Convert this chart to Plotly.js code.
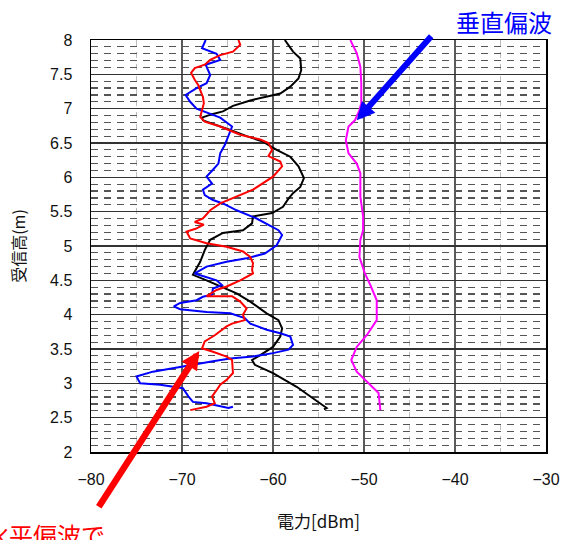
<!DOCTYPE html>
<html>
<head>
<meta charset="utf-8">
<script src="https://cdn.plot.ly/plotly-3.0.1.min.js"></script>
<style>
  html, body { margin: 0; padding: 0; background: #fff; }
  #chart { width: 564px; height: 540px; }
</style>
</head>
<body>
<div id="chart"></div>
<script>
// Received power versus receiving antenna height, four measured profiles.
const blueHeight = [8.00, 7.88, 7.80, 7.71, 7.64, 7.49, 7.37, 7.30, 7.20, 7.10, 7.00, 6.96, 6.87, 6.74, 6.59, 6.47, 6.35, 6.20, 6.11, 6.01, 5.91, 5.82, 5.74, 5.67, 5.62, 5.52, 5.40, 5.23, 5.16, 5.01, 4.89, 4.82, 4.77, 4.70, 4.60, 4.55, 4.50, 4.43, 4.38, 4.29, 4.26, 4.21, 4.17, 4.12, 4.08, 4.04, 4.02, 3.95, 3.87, 3.78, 3.73, 3.68, 3.56, 3.49, 3.44, 3.39, 3.36, 3.32, 3.24, 3.17, 3.10, 3.00, 2.98, 2.93, 2.81, 2.73, 2.71, 2.68, 2.64, 2.66];
const bluePower  = [-67.4, -67.8, -66.2, -65.8, -67.4, -66.9, -67.3, -68.4, -69.6, -69.1, -68.4, -67.6, -65.8, -64.5, -64.9, -65.3, -65.8, -66.0, -66.6, -67.3, -66.7, -67.7, -67.5, -66.6, -65.5, -64.0, -61.8, -59.4, -59.0, -59.6, -60.9, -62.9, -65.1, -67.3, -68.6, -67.5, -66.2, -65.6, -66.6, -66.7, -67.7, -68.4, -70.2, -70.9, -70.2, -67.3, -64.7, -63.1, -62.5, -60.7, -59.2, -58.1, -57.8, -58.3, -60.0, -62.2, -64.7, -66.6, -70.2, -73.2, -75.0, -74.6, -72.4, -69.9, -69.3, -68.8, -67.3, -66.2, -64.9, -64.4];

const redHeight = [8.00, 7.93, 7.83, 7.78, 7.71, 7.64, 7.59, 7.52, 7.42, 7.34, 7.27, 7.17, 7.08, 6.98, 6.88, 6.81, 6.74, 6.62, 6.55, 6.50, 6.40, 6.31, 6.23, 6.16, 6.01, 5.82, 5.72, 5.62, 5.52, 5.40, 5.35, 5.31, 5.25, 5.21, 5.11, 5.04, 4.99, 4.92, 4.84, 4.75, 4.65, 4.60, 4.50, 4.41, 4.36, 4.27, 4.27, 4.19, 4.09, 4.00, 3.92, 3.87, 3.83, 3.70, 3.61, 3.51, 3.46, 3.39, 3.34, 3.15, 3.05, 2.98, 2.90, 2.81, 2.71, 2.66, 2.61];
const redPower  = [-63.8, -63.6, -64.4, -65.8, -66.9, -67.5, -68.6, -69.0, -68.6, -68.2, -68.0, -67.7, -67.6, -67.8, -68.0, -67.5, -65.8, -63.6, -61.4, -60.5, -60.1, -60.5, -59.2, -59.0, -60.0, -62.2, -64.0, -65.8, -66.9, -67.7, -68.6, -67.6, -68.5, -69.5, -69.1, -67.3, -65.1, -63.3, -62.5, -62.2, -62.3, -62.2, -63.6, -65.1, -66.2, -67.3, -64.5, -63.6, -62.9, -63.3, -63.1, -64.5, -65.1, -66.4, -67.5, -67.8, -66.6, -65.1, -64.5, -64.4, -65.1, -65.8, -66.2, -66.7, -66.4, -67.3, -69.1];

const blackHeight = [8.00, 7.83, 7.73, 7.56, 7.44, 7.32, 7.22, 7.17, 7.12, 7.04, 6.96, 6.92, 6.87, 6.83, 6.78, 6.69, 6.60, 6.52, 6.40, 6.30, 6.16, 5.99, 5.86, 5.77, 5.69, 5.57, 5.48, 5.43, 5.33, 5.23, 5.19, 5.09, 4.94, 4.77, 4.63, 4.58, 4.50, 4.41, 4.31, 4.19, 4.02, 3.92, 3.80, 3.68, 3.53, 3.41, 3.34, 3.27, 3.15, 2.95, 2.78, 2.64, 2.62];
const blackPower  = [-58.7, -57.8, -57.0, -56.9, -57.2, -58.1, -59.2, -60.7, -62.5, -64.4, -65.5, -66.7, -67.8, -67.7, -66.6, -64.7, -62.9, -61.1, -59.6, -58.1, -57.2, -56.6, -57.0, -57.8, -58.3, -58.9, -60.1, -62.2, -62.3, -63.3, -65.5, -66.9, -67.5, -68.0, -68.6, -68.8, -67.3, -65.8, -64.0, -62.5, -60.7, -59.4, -59.0, -59.2, -60.0, -61.4, -62.3, -62.0, -60.0, -57.4, -55.6, -54.1, -54.4];

const magentaHeight = [8.00, 7.81, 7.61, 7.37, 7.08, 6.98, 6.83, 6.74, 6.54, 6.35, 6.20, 6.06, 5.72, 5.43, 5.23, 5.09, 4.84, 4.60, 4.43, 4.21, 3.92, 3.70, 3.53, 3.34, 3.17, 3.00, 2.86, 2.61];
const magentaPower  = [-51.5, -50.8, -50.4, -50.3, -50.3, -50.5, -51.0, -51.7, -52.0, -51.7, -50.8, -50.4, -50.4, -50.1, -50.1, -50.4, -50.5, -49.9, -49.3, -48.6, -48.6, -49.7, -50.8, -51.4, -50.8, -49.5, -48.4, -48.2];

const xTitle = '電力[dBm]';
const yTitle = '受信高(m)';
const vLabel = '垂直偏波';
const hLabel = '水平偏波で';

// Arrow tips: where each label points on its curve
const vArrowTip = { power: -50.8, height: 6.83 };
const hArrowTip = { power: -68.1, height: 3.47 };

const baseFont = 'Liberation Sans, Arial, Noto Sans CJK JP, sans-serif';
const cjkFont = 'Noto Sans CJK JP, sans-serif';

function profile(x, y, color) {
  return {
    type: 'scatter', mode: 'lines', x: x, y: y,
    line: { color: color, width: 2 },
    hoverinfo: 'skip', showlegend: false
  };
}

const data = [
  profile(magentaPower, magentaHeight, '#ff00ff'),
  profile(blackPower, blackHeight, '#000000'),
  profile(bluePower, blueHeight, '#0000ff'),
  profile(redPower, redHeight, '#ff0000')
];

const layout = {
  width: 564, height: 540,
  margin: { l: 91, r: 18, t: 40, b: 88 },
  paper_bgcolor: '#ffffff', plot_bgcolor: '#ffffff',
  showlegend: false,
  font: { family: baseFont, size: 16, color: '#111' },
  xaxis: {
    range: [-80, -30], dtick: 10, tick0: -80,
    showgrid: true, gridcolor: '#5a5a5a', gridwidth: 1.5,
    minor: { dtick: 5, showgrid: true, gridcolor: '#bdbdbd', griddash: '6px,6px', gridwidth: 1 },
    showline: true, mirror: true, linecolor: '#000', linewidth: 1.5,
    ticks: '', ticklabelstandoff: 12, zeroline: false,
    tickfont: { family: baseFont, size: 16, color: '#111' },
    title: { text: xTitle, font: { family: cjkFont, size: 17, color: '#111' }, standoff: 29 }
  },
  yaxis: {
    range: [2, 8], dtick: 0.5, tick0: 2,
    showgrid: true, gridcolor: '#333', gridwidth: 1.2,
    minor: { dtick: 0.1, showgrid: true, gridcolor: '#555', griddash: '7px,6px', gridwidth: 1.2 },
    showline: true, mirror: true, linecolor: '#000', linewidth: 1.5,
    ticks: '', ticklabelstandoff: 14, zeroline: false,
    tickfont: { family: baseFont, size: 16, color: '#111' },
    title: { text: yTitle, font: { family: cjkFont, size: 16, color: '#111' }, standoff: 20 }
  },
  annotations: [
    {
      x: vArrowTip.power, y: vArrowTip.height, xref: 'x', yref: 'y',
      text: ' ', showarrow: true, ax: 78, ay: -88,
      arrowcolor: '#0000ff', arrowwidth: 6, arrowhead: 2, arrowsize: 0.6
    },
    {
      x: hArrowTip.power, y: hArrowTip.height, xref: 'x', yref: 'y',
      text: ' ', showarrow: true, ax: -104, ay: 161,
      arrowcolor: '#ff0000', arrowwidth: 6.5, arrowhead: 2, arrowsize: 0.56
    },
    {
      x: 1.017, y: 1.044, xref: 'paper', yref: 'paper',
      xanchor: 'right', yanchor: 'middle', showarrow: false,
      text: vLabel, font: { family: cjkFont, size: 24, color: '#0000ff' }
    },
    {
      x: 0.035, y: -0.2, xref: 'paper', yref: 'paper',
      xanchor: 'right', yanchor: 'middle', showarrow: false,
      text: hLabel, font: { family: cjkFont, size: 24, color: '#ff0000' }
    }
  ]
};

Plotly.newPlot('chart', data, layout, { displayModeBar: false, staticPlot: true });
</script>
</body>
</html>
